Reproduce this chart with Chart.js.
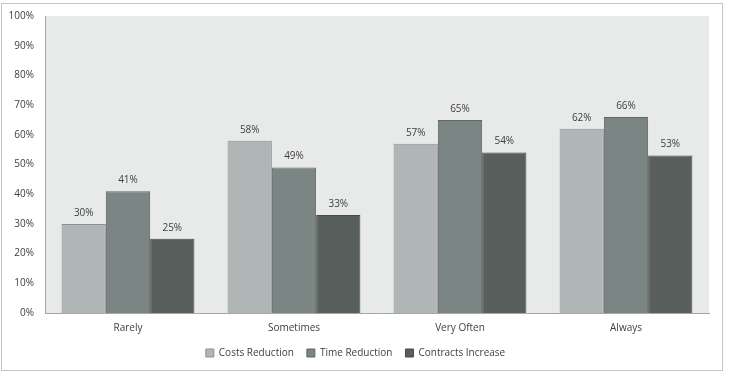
<!DOCTYPE html>
<html>
<head>
<meta charset="utf-8">
<script src="https://cdn.jsdelivr.net/npm/chart.js@4/dist/chart.umd.min.js"></script>
<style>
  html, body { margin: 0; padding: 0; background: #fff; }
  #box { position: absolute; left: 1px; top: 3px; width: 720px; height: 366px; border: 1px solid #c4c4c4; }
</style>
</head>
<body>
<div id="box"><canvas id="chart" width="720" height="366"></canvas></div>
<script>
var categories = ['Rarely', 'Sometimes', 'Very Often', 'Always'];
var costsReduction = [30, 58, 57, 62];
var timeReduction = [41, 49, 65, 66];
var contractsIncrease = [25, 33, 54, 53];
var yTicks = [0, 10, 20, 30, 40, 50, 60, 70, 80, 90, 100];

var fontFamily = "'Open Sans', 'Liberation Sans', sans-serif";
var textColor = '#404040';

// grey plot background
var plotBg = {
    id: 'plotBg',
    beforeDraw: function (chart) {
        var a = chart.chartArea, ctx = chart.ctx;
        ctx.save();
        ctx.fillStyle = '#e8e9e9';
        ctx.fillRect(a.left, a.top, a.right - a.left, a.bottom - a.top);
        ctx.restore();
    }
};

// percent labels above bars
var valueLabels = {
    id: 'valueLabels',
    afterDatasetsDraw: function (chart) {
        var ctx = chart.ctx;
        ctx.save();
        ctx.font = '10px ' + fontFamily;
        ctx.fillStyle = textColor;
        ctx.textAlign = 'center';
        ctx.textBaseline = 'bottom';
        chart.data.datasets.forEach(function (ds, i) {
            chart.getDatasetMeta(i).data.forEach(function (bar, j) {
                ctx.fillText(ds.data[j] + '%', bar.x, bar.y - 6);
            });
        });
        ctx.restore();
    }
};

new Chart(document.getElementById('chart').getContext('2d'), {
    type: 'bar',
    data: {
        labels: categories,
        datasets: [
            { label: 'Costs Reduction', data: costsReduction, backgroundColor: '#b0b6b5', borderColor: '#8a9190', borderWidth: 1 },
            { label: 'Time Reduction', data: timeReduction, backgroundColor: '#7b8583', borderColor: '#5f6867', borderWidth: 1 },
            { label: 'Contracts Increase', data: contractsIncrease, backgroundColor: '#585f5d', borderColor: '#454b4a', borderWidth: 1 }
        ]
    },
    options: {
        responsive: false,
        animation: false,
        layout: { padding: { left: 0, right: 13, top: 12, bottom: 2 } },
        categoryPercentage: 0.8,
        barPercentage: 1.0,
        scales: {
            x: {
                afterFit: function (scale) { scale.height = scale.height - 8; },
                grid: { display: false, drawTicks: false },
                border: { display: true, color: '#a6a6a6', width: 1 },
                ticks: { color: textColor, font: { family: fontFamily, size: 10 }, padding: 9 }
            },
            y: {
                min: 0,
                max: 100,
                afterFit: function (scale) {
                    scale.width = 43;
                    scale.paddingTop = 0;
                    scale.paddingBottom = 0;
                },
                afterBuildTicks: function (scale) {
                    scale.ticks = yTicks.map(function (v) { return { value: v }; });
                },
                grid: { display: false, drawTicks: false },
                border: { display: true, color: '#a6a6a6', width: 1 },
                ticks: {
                    color: textColor,
                    font: { family: fontFamily, size: 10 },
                    padding: 11,
                    callback: function (v) { return v + '%'; }
                }
            }
        },
        plugins: {
            legend: {
                position: 'bottom',
                labels: {
                    color: textColor,
                    font: { family: fontFamily, size: 10 },
                    boxWidth: 8,
                    boxHeight: 8,
                    padding: 13
                }
            },
            tooltip: { enabled: false }
        }
    },
    plugins: [plotBg, valueLabels]
});
</script>
</body>
</html>
